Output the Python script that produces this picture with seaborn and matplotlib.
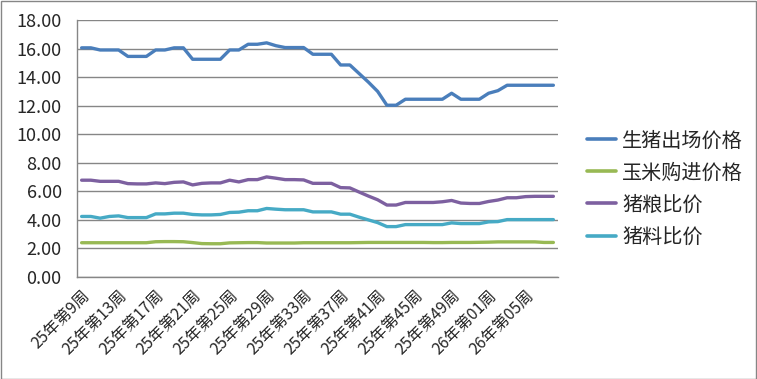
import numpy as np
import pandas as pd
import matplotlib
matplotlib.use("Agg")
import matplotlib.pyplot as plt
from matplotlib.patches import Rectangle
from matplotlib.lines import Line2D
from matplotlib.ticker import FixedLocator, FormatStrFormatter
import seaborn as sns

weeks = [
    "25年第9周", "25年第10周", "25年第11周", "25年第12周", "25年第13周", "25年第14周",
    "25年第15周", "25年第16周", "25年第17周", "25年第18周", "25年第19周", "25年第20周",
    "25年第21周", "25年第22周", "25年第23周", "25年第24周", "25年第25周", "25年第26周",
    "25年第27周", "25年第28周", "25年第29周", "25年第30周", "25年第31周", "25年第32周",
    "25年第33周", "25年第34周", "25年第35周", "25年第36周", "25年第37周", "25年第38周",
    "25年第39周", "25年第40周", "25年第41周", "25年第42周", "25年第43周", "25年第44周",
    "25年第45周", "25年第46周", "25年第47周", "25年第48周", "25年第49周", "25年第50周",
    "25年第51周", "25年第52周", "26年第01周", "26年第02周", "26年第03周", "26年第04周",
    "26年第05周", "26年第06周", "26年第07周", "26年第08周",
]

hog_price = [
    16.05, 16.05, 15.90, 15.90, 15.90, 15.45, 15.45, 15.45, 15.90, 15.90,
    16.05, 16.05, 15.25, 15.25, 15.25, 15.25, 15.90, 15.90, 16.30, 16.30,
    16.40, 16.20, 16.07, 16.07, 16.07, 15.60, 15.60, 15.60, 14.85, 14.85,
    14.25, 13.65, 13.00, 12.03, 12.03, 12.45, 12.45, 12.45, 12.45, 12.45,
    12.87, 12.45, 12.45, 12.45, 12.87, 13.05, 13.43, 13.43, 13.43, 13.43,
    13.43, 13.43,
]
corn_price = [
    2.40, 2.40, 2.40, 2.40, 2.40, 2.40, 2.40, 2.40, 2.47, 2.48,
    2.48, 2.47, 2.41, 2.34, 2.33, 2.33, 2.39, 2.40, 2.41, 2.41,
    2.38, 2.38, 2.38, 2.38, 2.40, 2.40, 2.40, 2.40, 2.40, 2.40,
    2.41, 2.42, 2.42, 2.42, 2.42, 2.42, 2.42, 2.42, 2.41, 2.41,
    2.42, 2.42, 2.42, 2.43, 2.44, 2.46, 2.46, 2.46, 2.46, 2.46,
    2.42, 2.42,
]
hog_grain_ratio = [
    6.78, 6.78, 6.70, 6.70, 6.70, 6.54, 6.52, 6.52, 6.59, 6.54,
    6.63, 6.66, 6.45, 6.56, 6.59, 6.59, 6.78, 6.66, 6.82, 6.82,
    7.01, 6.92, 6.82, 6.82, 6.80, 6.56, 6.56, 6.56, 6.26, 6.24,
    5.95, 5.67, 5.41, 5.04, 5.04, 5.22, 5.22, 5.22, 5.22, 5.27,
    5.36, 5.18, 5.15, 5.15, 5.29, 5.39, 5.55, 5.55, 5.63, 5.65,
    5.65, 5.65,
]
hog_feed_ratio = [
    4.24, 4.24, 4.12, 4.24, 4.28, 4.16, 4.16, 4.16, 4.42, 4.42,
    4.47, 4.47, 4.38, 4.35, 4.35, 4.38, 4.52, 4.54, 4.64, 4.64,
    4.80, 4.75, 4.71, 4.71, 4.71, 4.56, 4.56, 4.56, 4.40, 4.40,
    4.19, 4.00, 3.81, 3.53, 3.53, 3.67, 3.67, 3.67, 3.67, 3.67,
    3.79, 3.74, 3.74, 3.74, 3.86, 3.88, 4.02, 4.02, 4.02, 4.02,
    4.02, 4.02,
]
series_names = ["生猪出场价格", "玉米购进价格", "猪粮比价", "猪料比价"]
colors = ["#4A7EBB", "#98B954", "#7D60A0", "#46AAC5"]

frames = []
for name, vals in zip(series_names, [hog_price, corn_price, hog_grain_ratio, hog_feed_ratio]):
    frames.append(pd.DataFrame({"idx": np.arange(len(weeks)), "value": vals, "series": name}))
df = pd.concat(frames, ignore_index=True)

sns.set_theme(style="white")
plt.rcParams["font.family"] = ["Noto Sans CJK SC", "DejaVu Sans"]

fig = plt.figure(figsize=(7.57, 3.79), dpi=100)
ax = fig.add_axes([77 / 757, 1 - 277 / 379, (558 - 77) / 757, (277 - 20) / 379])

sns.lineplot(data=df, x="idx", y="value", hue="series", hue_order=series_names,
             palette=dict(zip(series_names, colors)), linewidth=2.4, ax=ax,
             legend=False)

grid_c = "#868686"
ax.set_xlim(-0.5, len(weeks) - 0.5)
ax.set_ylim(0, 18)
ax.set_yticks(np.arange(0, 18.01, 2))
ax.yaxis.set_major_formatter(FormatStrFormatter("%.2f"))
ax.yaxis.grid(True, color=grid_c, linewidth=1.0)
ax.set_axisbelow(True)

label_pos = list(range(0, len(weeks), 4))
ax.set_xticks(label_pos)
ax.set_xticklabels([weeks[i] for i in label_pos], rotation=45, ha="right",
                   rotation_mode="anchor", fontsize=11.5)
ax.xaxis.set_minor_locator(FixedLocator(np.arange(-0.5, len(weeks), 1)))
ax.tick_params(axis="x", which="major", length=0, pad=7)
ax.tick_params(axis="x", which="minor", length=5, width=1, color=grid_c, direction="out")
ax.tick_params(axis="y", which="major", length=5, width=1, color=grid_c,
               direction="out", labelsize=13, pad=6)
ax.set_xlabel("")
ax.set_ylabel("")
for s in ["top", "right"]:
    ax.spines[s].set_visible(False)
for s in ["left", "bottom"]:
    ax.spines[s].set_color(grid_c)
    ax.spines[s].set_linewidth(1.0)

handles = [Line2D([], [], color=c, linewidth=2.6) for c in colors]
fig.legend(handles, series_names, loc="center left", bbox_to_anchor=(577 / 757, 1 - 189 / 379),
           frameon=False, fontsize=14.5, handlelength=1.45, handletextpad=0.3,
           labelspacing=0.55, borderpad=0)

fig.patches.append(Rectangle((0.5 / 757, 0.5 / 379), 1 - 1.5 / 757, 1 - 1.5 / 379,
                             transform=fig.transFigure, fill=False,
                             edgecolor=grid_c, linewidth=1.0))

fig.savefig("out.png", dpi=100)
